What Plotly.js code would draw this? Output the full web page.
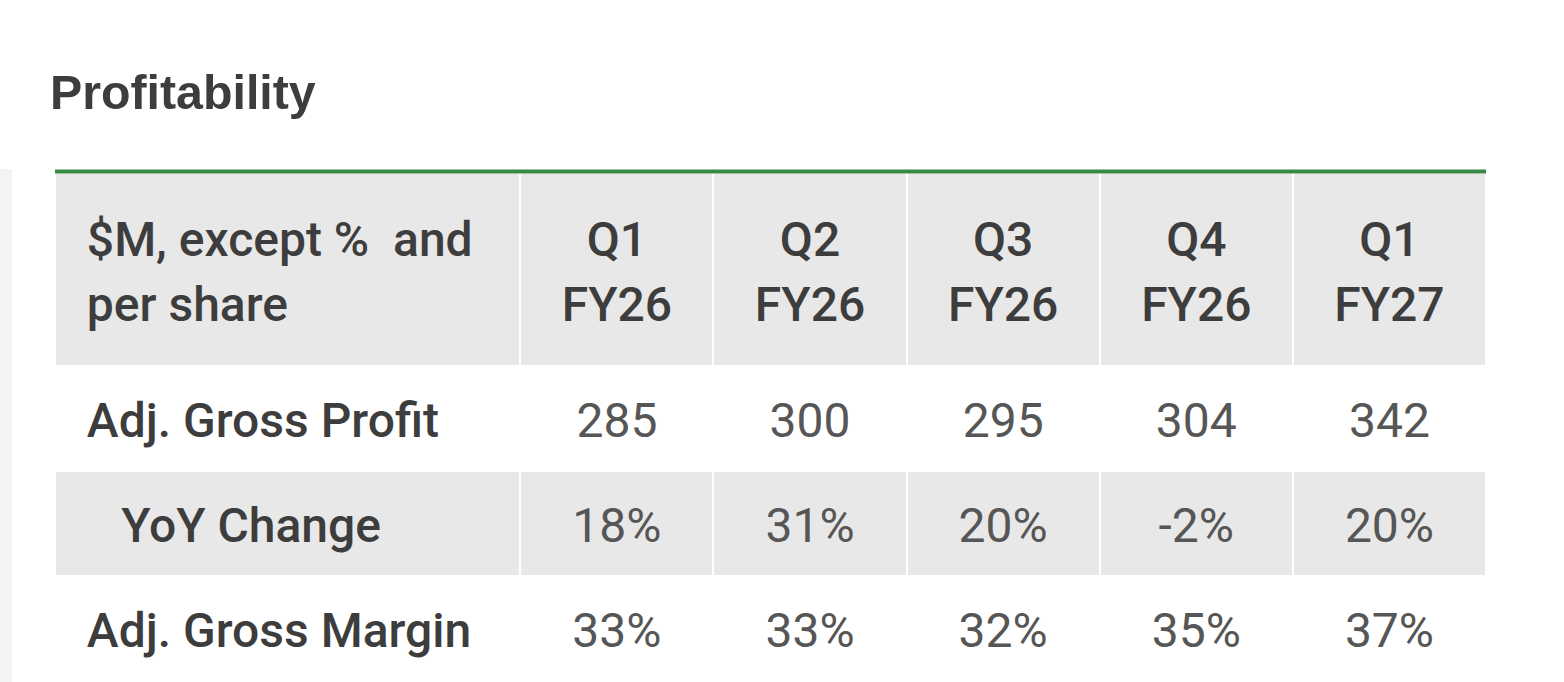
<!DOCTYPE html>
<html>
<head>
<meta charset="utf-8">
<script src="https://cdn.plot.ly/plotly-3.0.1.min.js"></script>
<style>html,body{margin:0;padding:0;background:#fff;}#chart{width:1564px;height:682px;}</style>
</head>
<body>
<div id="chart"></div>
<script>
// ---- data ----
const titleText = 'Profitability';
const cornerLabel = ['$M, except %\u00a0\u00a0and', 'per share'];
const quarters = ['Q1', 'Q2', 'Q3', 'Q4', 'Q1'];
const fiscalYears = ['FY26', 'FY26', 'FY26', 'FY26', 'FY27'];
const rowLabels = ['Adj. Gross Profit', '\u2002\u2009YoY Change', 'Adj. Gross Margin'];
const adjGrossProfit = ['285', '300', '295', '304', '342'];
const yoyChange = ['18%', '31%', '20%', '-2%', '20%'];
const adjGrossMargin = ['33%', '33%', '32%', '35%', '37%'];

// ---- build tables ----
const FONT = 'Roboto, Liberation Sans, Arial, sans-serif';
const TITLE_FONT = 'Liberation Sans, Arial, sans-serif';
const pad = '\u00a0\u00a0';
const dataRows = [adjGrossProfit, yoyChange, adjGrossMargin];
const nCols = quarters.length + 1;
const blankCol = () => rowLabels.map(() => '');
const emptyHeader = Array.from({length: nCols}, () => ['']);
const emptyCells = Array.from({length: nCols}, blankCol);
const headAlign = ['left'].concat(quarters.map(() => 'center'));

const rowFills = ['#ffffff', '#e8e8e8', '#ffffff'];
const fillColors = emptyCells.map(() => rowFills);
const colWidths = [465, 193, 193, 193, 193, 193];

const W = 1564, H = 682;
const x0 = 55 / W, x1 = 1486 / W;
const yTop = 1 - 173 / H;
const noFill = 'rgba(0,0,0,0)';
const hidden = {fill: {color: noFill}, line: {color: noFill, width: 0}};
const labelFont = {family: FONT, size: 48, color: '#3d3d3d', weight: 500};
const valueFont = {family: FONT, size: 48, color: '#565656', weight: 400};

// table that paints the cells (fills and white separators)
const gridTable = {
  type: 'table',
  domain: {x: [x0, x1], y: [0, yTop]},
  columnwidth: colWidths,
  header: {values: emptyHeader, height: 193, fill: {color: '#e8e8e8'}, line: {color: '#ffffff', width: 2}},
  cells: {values: emptyCells, height: 105, fill: {color: fillColors}, line: {color: '#ffffff', width: 2}}
};

// header text, one table per header line
function headerLine(values, shift) {
  return {
    type: 'table',
    domain: {x: [x0, x1], y: [0, yTop - shift / H]},
    columnwidth: colWidths,
    header: Object.assign({values: values.map(v => [v]), align: headAlign, height: 60, font: labelFont}, hidden),
    cells: Object.assign({values: emptyCells, height: 1}, hidden)
  };
}
const headTop = headerLine([pad + cornerLabel[0]].concat(quarters), 39);
const headBottom = headerLine([pad + cornerLabel[1]].concat(fiscalYears), 104);

// row labels (medium weight)
const labelTable = {
  type: 'table',
  domain: {x: [x0, x1], y: [0, yTop - 31 / H]},
  columnwidth: colWidths,
  header: Object.assign({values: emptyHeader, height: 189}, hidden),
  cells: Object.assign({
    values: [rowLabels.map(l => pad + l)].concat(quarters.map(blankCol)),
    align: 'left', height: 105, font: labelFont
  }, hidden)
};

// values (regular weight)
const valueTable = {
  type: 'table',
  domain: {x: [x0, x1], y: [0, yTop - 31 / H]},
  columnwidth: colWidths,
  header: Object.assign({values: emptyHeader, height: 189}, hidden),
  cells: Object.assign({
    values: [blankCol()].concat(quarters.map((q, i) => dataRows.map(r => r[i]))),
    align: 'center', height: 105, font: valueFont
  }, hidden)
};

const layout = {
  width: W, height: H,
  margin: {l: 0, r: 0, t: 0, b: 0},
  paper_bgcolor: '#ffffff',
  title: {
    text: '<b>' + titleText + '</b>',
    x: 50 / W, xanchor: 'left', xref: 'paper',
    y: 1 - 92 / H, yanchor: 'middle', yref: 'container',
    font: {family: TITLE_FONT, size: 48.3, color: '#3d3d3d'}
  },
  shapes: [
    {type: 'rect', xref: 'paper', yref: 'paper', x0: 0, x1: 12 / W, y0: 0, y1: 1 - 169 / H,
     fillcolor: '#f3f3f3', line: {width: 0}, layer: 'below'},
    {type: 'line', xref: 'paper', yref: 'paper', x0: x0, x1: x1, y0: yTop + 1.5 / H, y1: yTop + 1.5 / H,
     line: {color: '#378a44', width: 4}}
  ]
};

Plotly.newPlot('chart', [gridTable, headTop, headBottom, labelTable, valueTable], layout,
  {displayModeBar: false, staticPlot: true});
</script>
</body>
</html>
